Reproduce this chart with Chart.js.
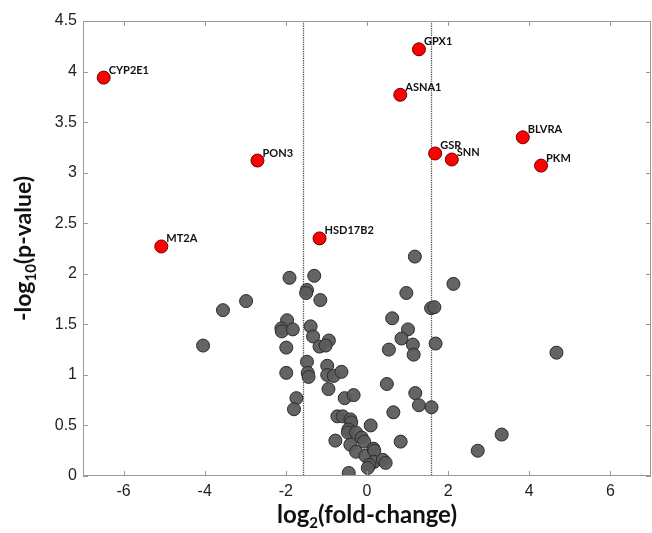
<!DOCTYPE html>
<html>
<head>
<meta charset="utf-8">
<script src="https://cdn.jsdelivr.net/npm/chart.js@4.4.1/dist/chart.umd.min.js"></script>
<style>
  body { margin: 0; background: #fff; }
  canvas { display: block; }
</style>
</head>
<body>
<canvas id="volcano" width="652" height="533"></canvas>
<script>
// axis ticks
const xTickValues = [-6, -4, -2, 0, 2, 4, 6];
const yTickValues = [0, 0.5, 1, 1.5, 2, 2.5, 3, 3.5, 4, 4.5];
// fold-change cutoff lines (log2 of 3)
const foldCutoffs = [-1.585, 1.585];

// significant genes (red, labelled)
const sigGenes = ['CYP2E1', 'MT2A', 'PON3', 'HSD17B2', 'GPX1', 'ASNA1', 'GSR', 'SNN', 'BLVRA', 'PKM'];
const sigFC = [-6.49, -5.07, -2.70, -1.17, 1.28, 0.82, 1.68, 2.09, 3.84, 4.29];
const sigP = [3.94, 2.27, 3.12, 2.35, 4.22, 3.77, 3.19, 3.13, 3.35, 3.07];

// remaining proteins (grey)
const otherFC = [-1.91, -1.30, -1.48, -1.50, -1.15, -2.98, -3.55, -1.97, -2.11, -2.10,
    -1.83, -1.39, -1.33, -0.94, -1.17, -1.02, -4.04, -1.99, -1.48, -0.98,
    -1.99, -1.46, -1.44, -0.98, -0.82, -0.63, -0.95, -1.74, -1.80, -0.55,
    -0.33, -0.73, -0.60, -0.41, -0.39, -0.46, -0.47, -0.27, -0.78, -0.41,
    -0.27, -0.45, -0.13, -0.07, -0.04, 0.09, 0.16, 0.18, 0.18, 0.39,
    0.46, 0.06, 0.02, 0.49, 0.65, 0.83, 1.18, 0.97, 1.58, 1.66,
    0.62, 1.01, 0.85, 1.13, 1.69, 0.54, 1.15, 1.19, 1.28, 1.59,
    2.13, 4.67, 3.32, 2.73];
const otherP = [1.96, 1.98, 1.84, 1.81, 1.74, 1.73, 1.64, 1.54, 1.46, 1.43,
    1.45, 1.48, 1.38, 1.34, 1.28, 1.29, 1.29, 1.27, 1.13, 1.09,
    1.02, 1.02, 0.98, 1.00, 0.99, 1.03, 0.86, 0.77, 0.66, 0.77,
    0.80, 0.59, 0.59, 0.56, 0.53, 0.46, 0.43, 0.43, 0.35, 0.31,
    0.24, 0.03, 0.38, 0.34, 0.20, 0.50, 0.27, 0.25, 0.14, 0.16,
    0.13, 0.11, 0.08, 0.91, 0.63, 0.34, 2.17, 1.81, 1.66, 1.67,
    1.56, 1.45, 1.36, 1.30, 1.31, 1.25, 1.20, 0.82, 0.70, 0.68,
    1.90, 1.22, 0.41, 0.25];

const tickFont = { family: '"Liberation Sans", Arial, sans-serif', size: 16 };
const titleFont = '"Lato", "Open Sans", sans-serif';

// box, inner ticks, cutoff lines
const framePlugin = {
    id: 'frame',
    beforeDatasetsDraw(chart) {
        const { ctx, chartArea: a, scales: { x } } = chart;
        ctx.save();
        ctx.strokeStyle = '#555';
        ctx.lineWidth = 1.3;
        ctx.setLineDash([1.3, 1]);
        foldCutoffs.forEach(v => {
            const px = Math.round(x.getPixelForValue(v)) + 0.5;
            ctx.beginPath();
            ctx.moveTo(px, a.top);
            ctx.lineTo(px, a.bottom);
            ctx.stroke();
        });
        ctx.restore();
    },
    afterDraw(chart) {
        const { ctx, chartArea: a, scales: { x, y } } = chart;
        ctx.save();
        ctx.strokeStyle = '#999';
        ctx.lineWidth = 1;
        ctx.strokeRect(a.left + 0.5, a.top + 0.5, a.right - a.left - 1, a.bottom - a.top - 1);
        ctx.beginPath();
        xTickValues.forEach(v => {
            const px = Math.round(x.getPixelForValue(v)) + 0.5;
            ctx.moveTo(px, a.bottom); ctx.lineTo(px, a.bottom - 5);
            ctx.moveTo(px, a.top); ctx.lineTo(px, a.top + 5);
        });
        yTickValues.forEach(v => {
            const py = Math.round(y.getPixelForValue(v)) + 0.5;
            ctx.moveTo(a.left, py); ctx.lineTo(a.left + 5, py);
            ctx.moveTo(a.right, py); ctx.lineTo(a.right - 5, py);
        });
        ctx.stroke();
        ctx.restore();
    }
};

// gene name labels beside red points
const geneLabelPlugin = {
    id: 'geneLabels',
    afterDatasetsDraw(chart) {
        const { ctx } = chart;
        const meta = chart.getDatasetMeta(1);
        ctx.save();
        ctx.font = 'bold 11px ' + titleFont;
        ctx.fillStyle = '#111';
        ctx.textBaseline = 'alphabetic';
        meta.data.forEach((pt, i) => {
            ctx.fillText(sigGenes[i], pt.x + 5, pt.y - 4);
        });
        ctx.restore();
    }
};

// axis titles with subscripts
function drawSubTitle(ctx, parts, cx, cy) {
    let total = 0;
    parts.forEach(p => {
        ctx.font = 'bold ' + p.size + 'px ' + titleFont;
        p.w = ctx.measureText(p.text).width;
        total += p.w;
    });
    let cur = cx - total / 2;
    parts.forEach(p => {
        ctx.font = 'bold ' + p.size + 'px ' + titleFont;
        ctx.fillText(p.text, cur, cy + (p.shift || 0));
        cur += p.w;
    });
}

const axisTitlePlugin = {
    id: 'axisTitles',
    afterDraw(chart) {
        const { ctx, chartArea: a } = chart;
        ctx.save();
        ctx.fillStyle = '#111';
        ctx.textBaseline = 'alphabetic';
        drawSubTitle(ctx, [
            { text: 'log', size: 24 },
            { text: '2', size: 15, shift: 5 },
            { text: '(fold-change)', size: 24 }
        ], (a.left + a.right) / 2, 523);
        ctx.translate(31, (a.top + a.bottom) / 2);
        ctx.rotate(-Math.PI / 2);
        drawSubTitle(ctx, [
            { text: '-log', size: 23 },
            { text: '10', size: 15, shift: 5 },
            { text: '(p-value)', size: 23 }
        ], 0, 0);
        ctx.restore();
    }
};

new Chart(document.getElementById('volcano'), {
    type: 'scatter',
    data: {
        datasets: [{
            label: 'proteins',
            data: otherFC.map((v, i) => ({ x: v, y: otherP[i] })),
            backgroundColor: 'rgba(92, 92, 92, 0.95)',
            borderColor: '#2a2a2a',
            borderWidth: 1,
            pointRadius: 6.5,
            pointHoverRadius: 6.5
        }, {
            label: 'significant',
            data: sigFC.map((v, i) => ({ x: v, y: sigP[i] })),
            backgroundColor: '#ff0000',
            borderColor: '#6a0000',
            borderWidth: 1,
            pointRadius: 6.5,
            pointHoverRadius: 6.5
        }]
    },
    options: {
        responsive: false,
        animation: false,
        layout: { autoPadding: false, padding: { top: 21, right: 1, left: 0, bottom: 0 } },
        plugins: {
            legend: { display: false },
            tooltip: { enabled: false }
        },
        scales: {
            x: {
                type: 'linear',
                min: -7,
                max: 7,
                afterBuildTicks: s => { s.ticks = xTickValues.map(v => ({ value: v })); },
                afterFit: s => { s.height = 57; },
                grid: { display: false, drawTicks: false },
                border: { display: false },
                ticks: { padding: 6, font: tickFont, color: '#222', callback: v => String(v) }
            },
            y: {
                type: 'linear',
                min: 0,
                max: 4.5,
                afterBuildTicks: s => { s.ticks = yTickValues.map(v => ({ value: v })); },
                afterFit: s => { s.width = 83; },
                grid: { display: false, drawTicks: false },
                border: { display: false },
                ticks: { padding: 6, font: tickFont, color: '#222', callback: v => String(v) }
            }
        }
    },
    plugins: [framePlugin, geneLabelPlugin, axisTitlePlugin]
});
</script>
</body>
</html>
